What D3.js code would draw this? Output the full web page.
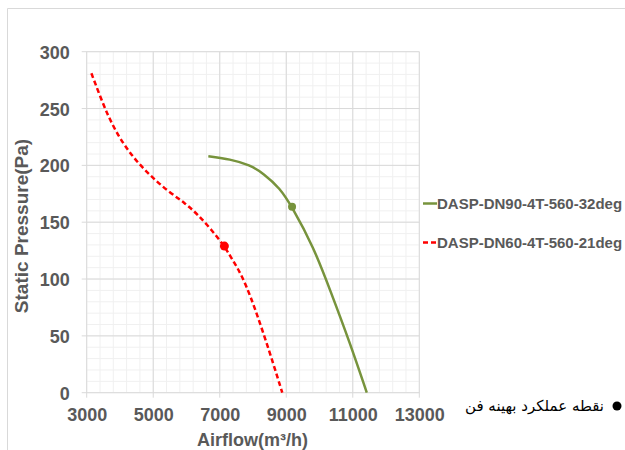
<!DOCTYPE html>
<html><head><meta charset="utf-8">
<script src="https://cdn.jsdelivr.net/npm/d3@7"></script>
<style>body{margin:0;background:#fff}svg{display:block}</style>
</head><body>
<svg id="c" width="625" height="450"></svg>
<script>
const xTicks = [3000, 5000, 7000, 9000, 11000, 13000];
const yTicks = [0, 50, 100, 150, 200, 250, 300];
const seriesNames = ["DASP-DN90-4T-560-32deg", "DASP-DN60-4T-560-21deg"];
const greenAirflow = [6657, 7310, 7910, 8310, 8810, 9174, 9815, 10318, 10920, 11421];
const greenPressure = [208, 205.5, 200.3, 193, 180, 163.5, 128.6, 90.4, 43.5, 0];
const redAirflow = [3141, 3400, 3650, 3950, 4250, 4550, 4950, 5450, 5950, 6350, 6760, 7140, 7360, 7760, 8360, 8880];
const redPressure = [281, 261, 243, 226, 213, 202, 190, 177, 167, 156.5, 143, 129, 118, 99, 49, 0];
const greenPoint = [9174, 163.5];
const redPoint = [7140, 129];
const markerLabel = "نقطه عملکرد بهینه فن";
const xTitle = "Airflow(m³/h)";
const yTitle = "Static Pressure(Pa)";

const svg = d3.select("#c");
const L = 86.7, R = 419.3, T = 51.7, B = 392.7;
const x = d3.scaleLinear().domain([3000, 13000]).range([L, R]);
const y = d3.scaleLinear().domain([0, 300]).range([B, T]);
const font = "'Liberation Sans', Arial, sans-serif";
const txt = "#595959";

// frame
svg.append("path").attr("d", "M7.5,450 V8.5 H625").attr("fill", "none").attr("stroke", "#d9d9d9").attr("stroke-width", 1);

// minor grid
const g = svg.append("g");
d3.range(3000, 13001, 400).forEach(v => {
  g.append("line").attr("x1", x(v)).attr("x2", x(v)).attr("y1", T).attr("y2", B).attr("stroke", "#f0f0f0");
});
d3.range(0, 301, 10).forEach(v => {
  g.append("line").attr("x1", L).attr("x2", R).attr("y1", y(v)).attr("y2", y(v)).attr("stroke", "#f0f0f0");
});
// major grid
xTicks.forEach(v => {
  g.append("line").attr("x1", x(v)).attr("x2", x(v)).attr("y1", T).attr("y2", B + 5).attr("stroke", "#d9d9d9");
});
yTicks.forEach(v => {
  g.append("line").attr("x1", L - 5).attr("x2", R).attr("y1", y(v)).attr("y2", y(v)).attr("stroke", "#d9d9d9");
});

// axes labels via d3 axes (no domain/ticks drawn)
const xAxis = svg.append("g").attr("transform", `translate(0,${B})`)
  .call(d3.axisBottom(x).tickValues(xTicks).tickSize(0).tickPadding(16).tickFormat(d3.format("d")));
const yAxis = svg.append("g").attr("transform", `translate(${L},0)`)
  .call(d3.axisLeft(y).tickValues(yTicks).tickSize(0).tickPadding(17).tickFormat(d3.format("d")));
[xAxis, yAxis].forEach(a => {
  a.select(".domain").remove();
  a.selectAll("text").attr("font-family", font).attr("font-size", 18).attr("font-weight", "bold").attr("fill", txt);
});
yAxis.selectAll("text").attr("dy", "0.36em");

svg.append("text").attr("x", 252.5).attr("y", 446).attr("text-anchor", "middle")
  .attr("font-family", font).attr("font-size", 18).attr("font-weight", "bold").attr("fill", txt).text(xTitle);
svg.append("text").attr("transform", "translate(28,226) rotate(-90)").attr("text-anchor", "middle")
  .attr("font-family", font).attr("font-size", 19).attr("font-weight", "bold").attr("fill", txt).text(yTitle);

// curves
const line = d3.line().x(d => x(d[0])).y(d => y(d[1])).curve(d3.curveBasis);
const green = "#77933c", red = "#ff0000";
svg.append("path").attr("d", line(greenAirflow.map((v, i) => [v, greenPressure[i]])))
  .attr("fill", "none").attr("stroke", green).attr("stroke-width", 2.5);
svg.append("path").attr("d", line(redAirflow.map((v, i) => [v, redPressure[i]])))
  .attr("fill", "none").attr("stroke", red).attr("stroke-width", 2.5).attr("stroke-dasharray", "5,3");
svg.append("circle").attr("cx", x(greenPoint[0])).attr("cy", y(greenPoint[1])).attr("r", 4).attr("fill", green);
svg.append("circle").attr("cx", x(redPoint[0])).attr("cy", y(redPoint[1])).attr("r", 4.5).attr("fill", red);

// legend
const leg = [[green, null, 203.5], [red, "5,3", 242.5]];
leg.forEach((l, i) => {
  svg.append("line").attr("x1", 423).attr("x2", 437).attr("y1", l[2]).attr("y2", l[2])
    .attr("stroke", l[0]).attr("stroke-width", 2.5).attr("stroke-dasharray", l[1]);
  svg.append("text").attr("x", 437).attr("y", l[2]).attr("dy", "0.36em")
    .attr("font-family", font).attr("font-size", 15).attr("font-weight", "bold").attr("fill", txt).text(seriesNames[i]);
});

// marker legend
svg.append("circle").attr("cx", 617).attr("cy", 406).attr("r", 4.5).attr("fill", "#000");
svg.append("text").attr("x", 604).attr("y", 406).attr("dy", "0.35em").attr("text-anchor", "end")
  .attr("font-family", "'DejaVu Sans', sans-serif").attr("font-size", 15)
  .attr("fill", "#000").text(markerLabel);
</script>
</body></html>
